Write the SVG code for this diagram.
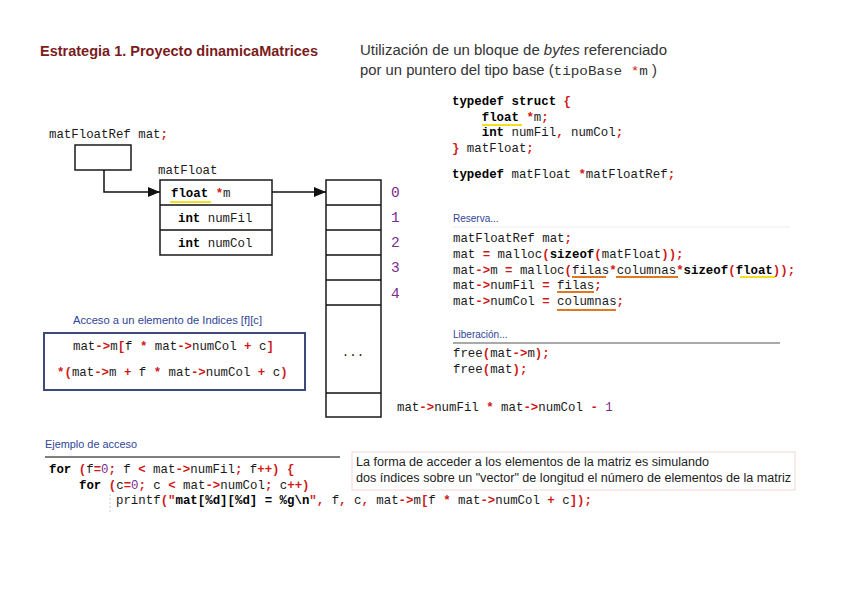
<svg xmlns="http://www.w3.org/2000/svg" width="848" height="599" viewBox="0 0 848 599">
<style>
.code{font-family:"Liberation Mono","DejaVu Sans Mono",monospace;font-size:12.4px;fill:#1a1a1a}
.k{font-weight:bold;fill:#000}
.p{fill:#d01818;font-weight:bold}
.n{fill:#7a2d8c}
.head{font-family:"Liberation Sans",Arial,sans-serif;font-size:10px;fill:#2f4596}
.box{fill:#fff;stroke:#1a1a1a;stroke-width:1.5}
.conn{stroke:#111;stroke-width:1.5;fill:none}
.idx{font-family:"Liberation Mono","DejaVu Sans Mono",monospace;font-size:14.5px;fill:#7a2d8c}
.ul-o{stroke:#e07820;stroke-width:2}
.ul-y{stroke:#f0e020;stroke-width:2}
.note{font-family:"Liberation Sans",Arial,sans-serif;font-size:12.5px;fill:#222}
</style>
<defs>
<marker id="arr" viewBox="0 0 12 10" refX="12" refY="5" markerWidth="12" markerHeight="10" markerUnits="userSpaceOnUse" orient="auto">
<path d="M0,0 L12,5 L0,10 Z" fill="#111"/>
</marker>
</defs>
<rect width="848" height="599" fill="#fff"/>

<g id="title">
<text x="40" y="56" font-family="'Liberation Sans',Arial,sans-serif" font-weight="bold" font-size="15.5" fill="#7b1c1c" textLength="278" lengthAdjust="spacingAndGlyphs">Estrategia 1. Proyecto dinamicaMatrices</text>
<text x="360" y="55" font-family="'Liberation Sans',Arial,sans-serif" font-size="14" fill="#333" textLength="307" lengthAdjust="spacingAndGlyphs">Utilización de un bloque de <tspan font-style="italic">bytes</tspan> referenciado</text>
<text x="360" y="75" font-family="'Liberation Sans',Arial,sans-serif" font-size="14" fill="#333" xml:space="preserve" textLength="297" lengthAdjust="spacingAndGlyphs">por un puntero del tipo base (<tspan font-family="'Liberation Mono',monospace" font-size="13.5">tipoBase </tspan><tspan fill="#d01818" font-family="'Liberation Mono',monospace" font-size="13.5">*</tspan><tspan font-family="'Liberation Mono',monospace" font-size="13.5">m</tspan> )</text>
</g>

<g id="typedef">
<text class="code" x="452" y="105" xml:space="preserve"><tspan class="k">typedef</tspan> <tspan class="k">struct</tspan> <tspan class="p">{</tspan></text>
<text class="code" x="452" y="121" xml:space="preserve">    <tspan class="k">float</tspan> <tspan class="p">*</tspan>m<tspan class="p">;</tspan></text>
<text class="code" x="452" y="136" xml:space="preserve">    <tspan class="k">int</tspan> numFil<tspan class="p">,</tspan> numCol<tspan class="p">;</tspan></text>
<text class="code" x="452" y="152" xml:space="preserve"><tspan class="p">}</tspan> matFloat<tspan class="p">;</tspan></text>
<text class="code" x="452" y="178" xml:space="preserve"><tspan class="k">typedef</tspan> matFloat <tspan class="p">*</tspan>matFloatRef<tspan class="p">;</tspan></text>
<line class="ul-y" x1="482" y1="125" x2="522" y2="125"/>
</g>

<g id="ptr">
<text class="code" x="49" y="138" xml:space="preserve">matFloatRef mat<tspan class="p">;</tspan></text>
<rect class="box" x="75" y="145" width="56" height="25"/>
</g>

<g id="matFloat">
<text class="code" x="158" y="174">matFloat</text>
<rect class="box" x="160" y="180" width="112" height="75"/>
<line class="conn" x1="160" y1="205" x2="272" y2="205"/>
<line class="conn" x1="160" y1="230" x2="272" y2="230"/>
<text class="code" x="171" y="197" xml:space="preserve"><tspan class="k">float</tspan> <tspan class="p">*</tspan>m</text>
<line class="ul-y" x1="170" y1="202" x2="211" y2="202"/>
<text class="code" x="178" y="222" xml:space="preserve"><tspan class="k">int</tspan> numFil</text>
<text class="code" x="178" y="247" xml:space="preserve"><tspan class="k">int</tspan> numCol</text>
</g>

<g id="array">
<rect class="box" x="326" y="180" width="55" height="237"/>
<line class="conn" x1="326" y1="205" x2="381" y2="205"/>
<line class="conn" x1="326" y1="230" x2="381" y2="230"/>
<line class="conn" x1="326" y1="255" x2="381" y2="255"/>
<line class="conn" x1="326" y1="280" x2="381" y2="280"/>
<line class="conn" x1="326" y1="305" x2="381" y2="305"/>
<line class="conn" x1="326" y1="393" x2="381" y2="393"/>
<text class="code" x="353" y="356" text-anchor="middle">...</text>
<text class="idx" x="391" y="197">0</text>
<text class="idx" x="391" y="222">1</text>
<text class="idx" x="391" y="247">2</text>
<text class="idx" x="391" y="272">3</text>
<text class="idx" x="391" y="298">4</text>
<text class="code" x="397" y="411" xml:space="preserve">mat<tspan class="p">-&gt;</tspan>numFil <tspan class="p">*</tspan> mat<tspan class="p">-&gt;</tspan>numCol <tspan class="p">-</tspan> <tspan class="n">1</tspan></text>
</g>

<g id="connectors">
<path class="conn" d="M104,170 V192 H160" marker-end="url(#arr)"/>
<path class="conn" d="M272,192 H326" marker-end="url(#arr)"/>
</g>

<g id="reserva">
<text class="head" x="453" y="222">Reserva...</text>
<line x1="453" y1="227" x2="790" y2="227" stroke="#ececec" stroke-width="1"/>
<text class="code" x="453" y="242" xml:space="preserve">matFloatRef mat<tspan class="p">;</tspan></text>
<text class="code" x="453" y="258" xml:space="preserve">mat <tspan class="p">=</tspan> malloc<tspan class="p">(</tspan><tspan class="k">sizeof</tspan><tspan class="p">(</tspan>matFloat<tspan class="p">));</tspan></text>
<text class="code" x="453" y="274" xml:space="preserve">mat<tspan class="p">-&gt;</tspan>m <tspan class="p">=</tspan> malloc<tspan class="p">(</tspan>filas<tspan class="p">*</tspan>columnas<tspan class="p">*</tspan><tspan class="k">sizeof</tspan><tspan class="p">(</tspan><tspan class="k">float</tspan><tspan class="p">));</tspan></text>
<text class="code" x="453" y="289" xml:space="preserve">mat<tspan class="p">-&gt;</tspan>numFil <tspan class="p">=</tspan> filas<tspan class="p">;</tspan></text>
<text class="code" x="453" y="305" xml:space="preserve">mat<tspan class="p">-&gt;</tspan>numCol <tspan class="p">=</tspan> columnas<tspan class="p">;</tspan></text>
<line class="ul-o" x1="572" y1="277" x2="606" y2="277"/>
<line class="ul-o" x1="616" y1="277" x2="678" y2="277"/>
<line class="ul-y" x1="740" y1="277" x2="775" y2="277"/>
<line class="ul-o" x1="557" y1="292" x2="594" y2="292"/>
<line class="ul-o" x1="557" y1="310" x2="616" y2="310"/>
</g>

<g id="liberacion">
<text class="head" x="453" y="338">Liberación...</text>
<line x1="453" y1="343" x2="780" y2="343" stroke="#555" stroke-width="1.2"/>
<text class="code" x="453" y="357" xml:space="preserve">free<tspan class="p">(</tspan>mat<tspan class="p">-&gt;</tspan>m<tspan class="p">);</tspan></text>
<text class="code" x="453" y="373" xml:space="preserve">free<tspan class="p">(</tspan>mat<tspan class="p">);</tspan></text>
</g>

<g id="acceso">
<text class="head" x="73" y="324" textLength="189" lengthAdjust="spacingAndGlyphs">Acceso a un elemento de Indices [f][c]</text>
<rect x="44" y="333" width="261" height="57" fill="#fff" stroke="#3b4a7a" stroke-width="2"/>
<text class="code" x="73" y="350" xml:space="preserve">mat<tspan class="p">-&gt;</tspan>m<tspan class="p">[</tspan>f <tspan class="p">*</tspan> mat<tspan class="p">-&gt;</tspan>numCol <tspan class="p">+</tspan> c<tspan class="p">]</tspan></text>
<text class="code" x="57" y="376" xml:space="preserve"><tspan class="p">*(</tspan>mat<tspan class="p">-&gt;</tspan>m <tspan class="p">+</tspan> f <tspan class="p">*</tspan> mat<tspan class="p">-&gt;</tspan>numCol <tspan class="p">+</tspan> c<tspan class="p">)</tspan></text>
</g>

<g id="ejemplo">
<text class="head" x="45" y="448" textLength="92" lengthAdjust="spacingAndGlyphs">Ejemplo de acceso</text>
<line x1="45" y1="457" x2="340" y2="457" stroke="#555" stroke-width="1.5"/>
<text class="code" x="49" y="473" xml:space="preserve"><tspan class="k">for</tspan> <tspan class="p">(</tspan>f<tspan class="p">=</tspan><tspan class="n">0</tspan><tspan class="p">;</tspan> f <tspan class="p">&lt;</tspan> mat<tspan class="p">-&gt;</tspan>numFil<tspan class="p">;</tspan> f<tspan class="p">++)</tspan> <tspan class="p">{</tspan></text>
<text class="code" x="79" y="489" xml:space="preserve"><tspan class="k">for</tspan> <tspan class="p">(</tspan>c<tspan class="p">=</tspan><tspan class="n">0</tspan><tspan class="p">;</tspan> c <tspan class="p">&lt;</tspan> mat<tspan class="p">-&gt;</tspan>numCol<tspan class="p">;</tspan> c<tspan class="p">++)</tspan></text>
<line x1="110" y1="494" x2="110" y2="512" stroke="#ccc" stroke-width="1" stroke-dasharray="2,2"/>
<text class="code" x="116" y="504" xml:space="preserve">printf<tspan class="p">("</tspan><tspan class="k">mat[%d][%d] = %g\n</tspan><tspan class="p">",</tspan> f<tspan class="p">,</tspan> c<tspan class="p">,</tspan> mat<tspan class="p">-&gt;</tspan>m<tspan class="p">[</tspan>f <tspan class="p">*</tspan> mat<tspan class="p">-&gt;</tspan>numCol <tspan class="p">+</tspan> c<tspan class="p">]);</tspan></text>
</g>

<g id="nota">
<rect x="352" y="452" width="443" height="38" fill="#fff" stroke="#f2d6d6" stroke-width="1"/>
<text class="note" x="356" y="466" textLength="353" lengthAdjust="spacingAndGlyphs">La forma de acceder a los elementos de la matriz es simulando</text>
<text class="note" x="356" y="482" textLength="435" lengthAdjust="spacingAndGlyphs">dos índices sobre un "vector" de longitud el número de elementos de la matriz</text>
</g>
</svg>
